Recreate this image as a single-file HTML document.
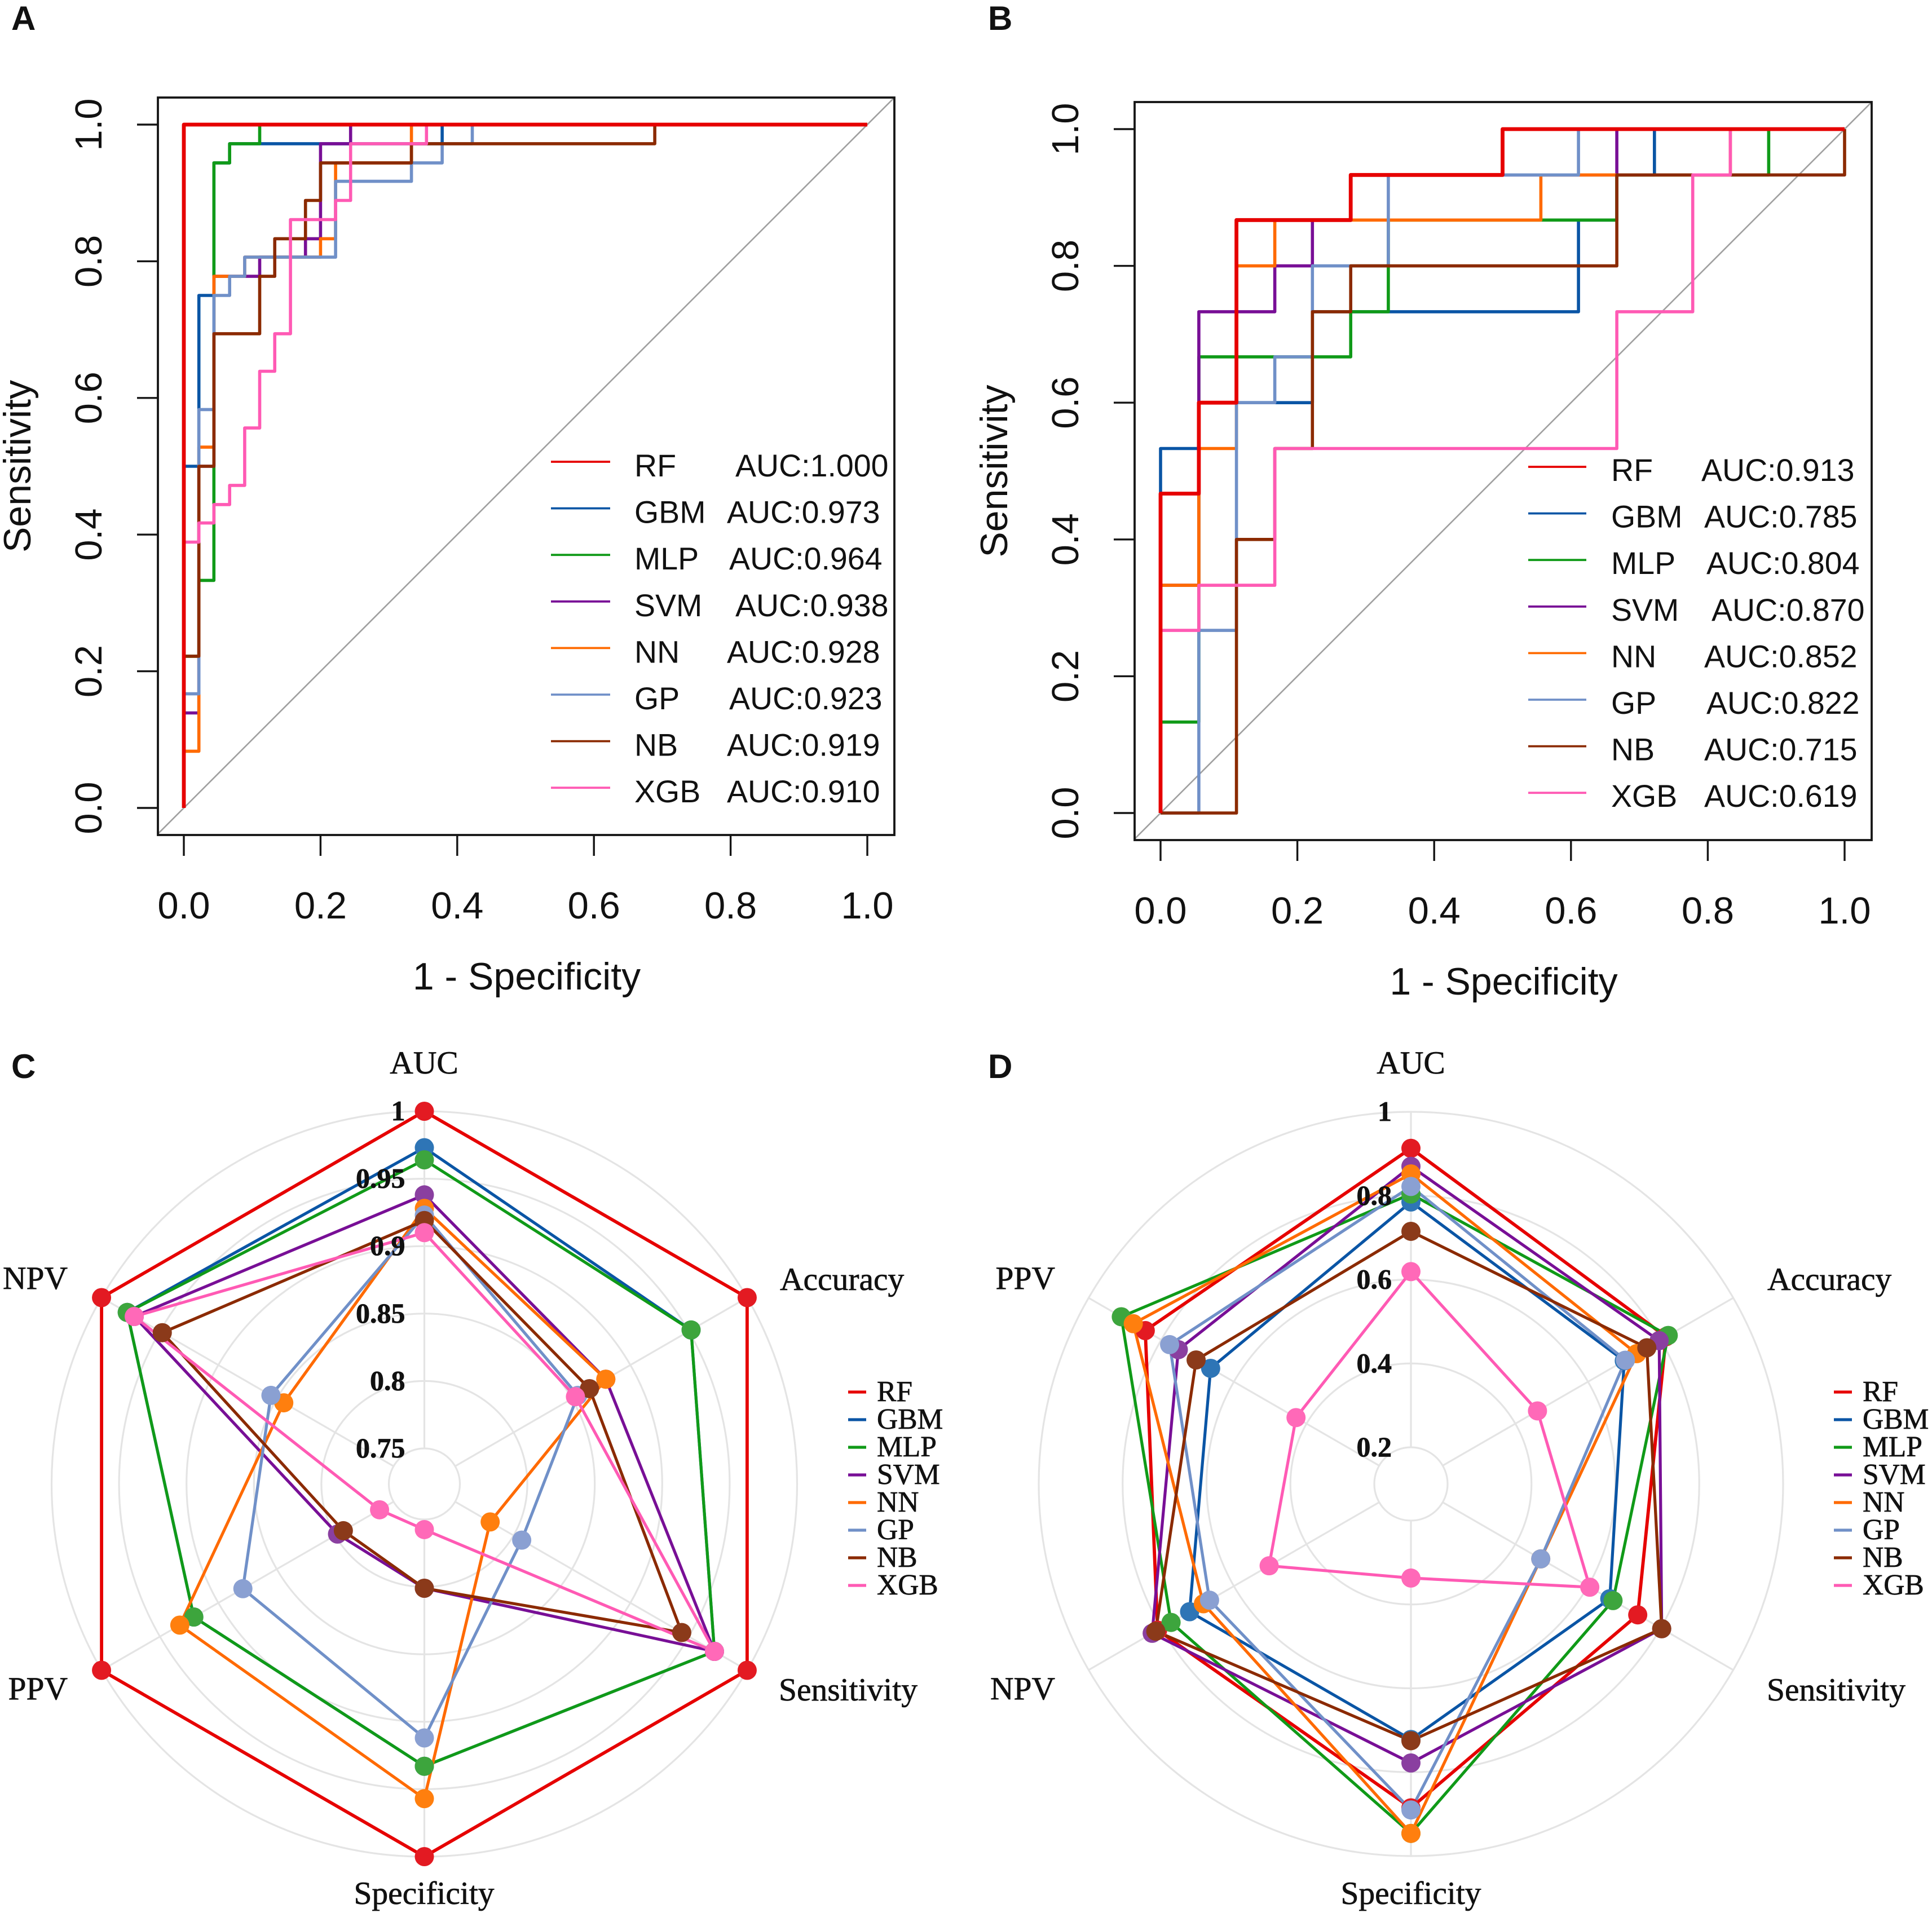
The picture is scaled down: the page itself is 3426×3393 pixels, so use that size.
<!DOCTYPE html>
<html lang="en">
<head>
<meta charset="utf-8">
<title>ROC curves and radar charts of eight models</title>
<style>
html,body{margin:0;padding:0;background:#fff;}
svg{display:block;}
.sans{font-family:"Liberation Sans",sans-serif;fill:#111;}
.serif{font-family:"Liberation Serif",serif;fill:#111;stroke:#111;stroke-width:.7px;}
</style>
</head>
<body>
<svg id="figure" width="3426" height="3393" viewBox="0 0 3426 3393" xmlns="http://www.w3.org/2000/svg">
<rect x="0" y="0" width="3426" height="3393" fill="#fff"/>
<text class="sans" x="20" y="53" font-size="60" font-weight="bold">A</text>
<text class="sans" x="1752" y="53" font-size="60" font-weight="bold">B</text>
<text class="sans" x="20" y="1912" font-size="60" font-weight="bold">C</text>
<text class="sans" x="1752" y="1912" font-size="60" font-weight="bold">D</text>
</svg>
<script>
// ---------- shared series ----------
const models = ["RF","GBM","MLP","SVM","NN","GP","NB","XGB"];
const lineColors = {RF:"#e60000",GBM:"#0a55a5",MLP:"#109a18",SVM:"#780f96",NN:"#ff6a00",GP:"#7090c8",NB:"#8b2a00",XGB:"#ff5ab4"};
const markerColors = {RF:"#e31a22",GBM:"#2e75b6",MLP:"#3da53d",SVM:"#8a3fa0",NN:"#ff7f0e",GP:"#8aa0d2",NB:"#8b3a1a",XGB:"#ff69b8"};
const rocTicks = [0,0.2,0.4,0.6,0.8,1];
const rocTickLabels = ["0.0","0.2","0.4","0.6","0.8","1.0"];

// ---------- panel A ROC ----------
const aucA = ["1.000","0.973","0.964","0.938","0.928","0.923","0.919","0.910"];
const rfAx = [0,0,1];
const rfAy = [0,1,1];
const gbmAx = [0,0,.022,.022,.044,.044,.067,.067,.378,.378,1];
const gbmAy = [0,.5,.5,.75,.75,.944,.944,.972,.972,1,1];
const mlpAx = [0,0,.022,.022,.044,.044,.067,.067,.111,.111,1];
const mlpAy = [0,.222,.222,.333,.333,.944,.944,.972,.972,1,1];
const svmAx = [0,0,.022,.022,.044,.044,.111,.111,.178,.178,.2,.2,.244,.244,1];
const svmAy = [0,.139,.139,.5,.5,.778,.778,.806,.806,.833,.833,.972,.972,1,1];
const nnAx = [0,0,.022,.022,.044,.044,.089,.089,.2,.2,.222,.222,.333,.333,1];
const nnAy = [0,.083,.083,.528,.528,.778,.778,.806,.806,.833,.833,.944,.944,1,1];
const gpAx = [0,0,.022,.022,.044,.044,.067,.067,.089,.089,.222,.222,.333,.333,.378,.378,.422,.422,1];
const gpAy = [0,.167,.167,.583,.583,.75,.75,.778,.778,.806,.806,.917,.917,.944,.944,.972,.972,1,1];
const nbAx = [0,0,.022,.022,.044,.044,.111,.111,.133,.133,.178,.178,.2,.2,.333,.333,.689,.689,1];
const nbAy = [0,.222,.222,.5,.5,.694,.694,.778,.778,.833,.833,.889,.889,.944,.944,.972,.972,1,1];
const xgbAx = [0,0,.022,.022,.044,.044,.067,.067,.089,.089,.111,.111,.133,.133,.156,.156,.222,.222,.244,.244,.355,.355,1];
const xgbAy = [0,.389,.389,.417,.417,.444,.444,.472,.472,.556,.556,.639,.639,.694,.694,.861,.861,.889,.889,.972,.972,1,1];

// ---------- panel B ROC ----------
const aucB = ["0.913","0.785","0.804","0.870","0.852","0.822","0.715","0.619"];
const rfBx = [0,0,.056,.056,.111,.111,.278,.278,.5,.5,1];
const rfBy = [0,.467,.467,.6,.6,.867,.867,.933,.933,1,1];
const gbmBx = [0,0,.056,.056,.222,.222,.611,.611,.667,.667,.722,.722,1];
const gbmBy = [0,.533,.533,.6,.6,.733,.733,.867,.867,.933,.933,1,1];
const mlpBx = [0,0,.056,.056,.278,.278,.333,.333,.667,.667,.889,.889,1];
const mlpBy = [0,.133,.133,.667,.667,.733,.733,.867,.867,.933,.933,1,1];
const svmBx = [0,0,.056,.056,.167,.167,.222,.222,.278,.278,.667,.667,1];
const svmBy = [0,.333,.333,.733,.733,.8,.8,.867,.867,.933,.933,1,1];
const nnBx = [0,0,.056,.056,.111,.111,.167,.167,.556,.556,.833,.833,1];
const nnBy = [0,.333,.333,.533,.533,.8,.8,.867,.867,.933,.933,1,1];
const gpBx = [0,.056,.056,.111,.111,.167,.167,.222,.222,.333,.333,.611,.611,1];
const gpBy = [0,0,.267,.267,.6,.6,.667,.667,.8,.8,.933,.933,1,1];
const nbBx = [0,.111,.111,.167,.167,.222,.222,.278,.278,.667,.667,1,1];
const nbBy = [0,0,.4,.4,.533,.533,.733,.733,.8,.8,.933,.933,1];
const xgbBx = [0,0,.056,.056,.167,.167,.667,.667,.778,.778,.833,.833,1];
const xgbBy = [0,.267,.267,.333,.333,.533,.533,.733,.733,.933,.933,1,1];

// ---------- panel C radar ----------
const axesC = ["AUC","Accuracy","Sensitivity","Specificity","PPV","NPV"];
const ticksC = [0.75,0.8,0.85,0.9,0.95,1];
const tickLabelsC = ["0.75","0.8","0.85","0.9","0.95","1"];
const rfC = [1,1,1,1,1,1];
const gbmC = [.973,.952,.972,.933,.921,.978];
const mlpC = [.964,.952,.972,.933,.921,.978];
const svmC = [.938,.879,.972,.801,.798,.972];
const nnC = [.928,.879,.78,.957,.933,.844];
const gpC = [.923,.855,.807,.912,.879,.855];
const nbC = [.919,.865,.944,.801,.793,.948];
const xgbC = [.91,.853,.972,.7575,.762,.972];

// ---------- panel D radar ----------
const axesD = ["AUC","Accuracy","Sensitivity","Specificity","NPV","PPV"];
const ticksD = [0.2,0.4,0.6,0.8,1];
const tickLabelsD = ["0.2","0.4","0.6","0.8","1"];
const rfD = [.913,.815,.737,.885,.81,.844];
const gbmD = [.785,.70,.66,.722,.722,.664];
const mlpD = [.804,.821,.669,.946,.773,.91];
const svmD = [.87,.796,.803,.778,.825,.753];
const nnD = [.852,.734,.47,.946,.684,.877];
const gpD = [.822,.703,.47,.89,.667,.777];
const nbD = [.715,.762,.803,.725,.815,.704];
const xgbD = [.619,.461,.605,.337,.503,.429];

// ---------- helpers ----------
const SVGNS = "http://www.w3.org/2000/svg";
const figure = document.getElementById("figure");
function make(tag, parent, props, txt) {
  const node = document.createElementNS(SVGNS, tag);
  for (const k in props) node.setAttribute(k, props[k]);
  if (txt !== undefined) node.textContent = txt;
  parent.appendChild(node);
  return node;
}
function slug(s) { return s.toLowerCase().replace(/[^a-z0-9]+/g, "-"); }

// ---------- ROC panel ----------
function drawRoc(cfg) {
  const g = make("g", figure, {});
  
  
  const sx = v => cfg.x0 + v * (cfg.x1 - cfg.x0);
  const sy = v => cfg.y0 + v * (cfg.y1 - cfg.y0);
  const clipId = "clip-" + cfg.id;
  const defs = make("defs", g, {});
  const cp = make("clipPath", defs, {id: clipId});
  make("rect", cp, {x: cfg.left, y: cfg.top, width: cfg.right - cfg.left, height: cfg.bottom - cfg.top});

  const diag = make("line", g, {x1: sx(-0.05), y1: sy(-0.05), x2: sx(1.05), y2: sy(1.05), stroke: "#a0a0a0", "stroke-width": 2.6, "clip-path": "url(#" + clipId + ")"});
  
  

  cfg.order.forEach(m => {
    const s = cfg.series[m];
    const pts = s.x.map((v, i) => sx(v).toFixed(1) + "," + sy(s.y[i]).toFixed(1)).join(" ");
    const pl = make("polyline", g, {points: pts, fill: "none", stroke: lineColors[m], "stroke-width": m === "RF" ? 6.8 : 5.6, "stroke-linejoin": "round"});
    
    
  });

  const box = make("rect", g, {x: cfg.left, y: cfg.top, width: cfg.right - cfg.left, height: cfg.bottom - cfg.top, fill: "none", stroke: "#151515", "stroke-width": 3.8});
  
  

  rocTicks.forEach((t, i) => {
    const tx = make("line", g, {x1: sx(t), x2: sx(t), y1: cfg.bottom, y2: cfg.bottom + 37, stroke: "#151515", "stroke-width": 3.4});
    
    
    const lx = make("text", g, {class: "sans", x: sx(t), y: cfg.bottom + 148, "font-size": 67, "text-anchor": "middle"}, rocTickLabels[i]);
    
    
    const ty = make("line", g, {y1: sy(t), y2: sy(t), x1: cfg.left, x2: cfg.left - 37, stroke: "#151515", "stroke-width": 3.4});
    
    
    const bx = cfg.left - 100, by = sy(t);
    const ly = make("text", g, {class: "sans", x: bx, y: by, "font-size": 67, "text-anchor": "middle", transform: "rotate(-90 " + bx + " " + by + ")"}, rocTickLabels[i]);
    
    
  });

  const xt = make("text", g, {class: "sans", x: (cfg.left + cfg.right) / 2 + 1, y: cfg.bottom + 274, "font-size": 68, "text-anchor": "middle"}, "1 - Specificity");
  
  
  const yx = cfg.left - 226, yy = (cfg.top + cfg.bottom) / 2;
  const yt = make("text", g, {class: "sans", x: yx, y: yy, "font-size": 68, "text-anchor": "middle", transform: "rotate(-90 " + yx + " " + yy + ")"}, "Sensitivity");
  
  

  models.forEach((m, i) => {
    const rowLine = cfg.legendLineY + i * 82.6;
    const rowText = cfg.legendTextY + i * 82.6;
    const key = make("line", g, {x1: cfg.legendLine[0], x2: cfg.legendLine[1], y1: rowLine, y2: rowLine, stroke: lineColors[m], "stroke-width": 3.8});
    
    
    const nm = make("text", g, {class: "sans", x: cfg.legendLabelX, y: rowText, "font-size": 55.5}, m);
    
    
    const au = make("text", g, {class: "sans", x: cfg.legendAucStart[i], y: rowText, "font-size": 55.5}, "AUC:" + cfg.auc[i]);
    
    
  });
}

// ---------- radar panel ----------
function drawRadar(cfg) {
  const g = make("g", figure, {});
  
  
  const lo = cfg.ticks[0], hi = cfg.ticks[cfg.ticks.length - 1];
  const radius = v => cfg.r0 + (v - lo) / (hi - lo) * (cfg.R - cfg.r0);
  const point = (axisIndex, v) => {
    const a = (-90 + 60 * axisIndex) * Math.PI / 180;
    const r = radius(v);
    return [cfg.cx + r * Math.cos(a), cfg.cy + r * Math.sin(a)];
  };
  cfg.ticks.forEach(t => {
    const ring = make("circle", g, {cx: cfg.cx, cy: cfg.cy, r: radius(t), fill: "none", stroke: "#e4e4e4", "stroke-width": 3.2});
    
    
  });
  cfg.axes.forEach((name, i) => {
    const a = point(i, lo), b = point(i, hi);
    const sp = make("line", g, {x1: a[0], y1: a[1], x2: b[0], y2: b[1], stroke: "#e4e4e4", "stroke-width": 3.2});
    
    
  });
  models.forEach(m => {
    const vals = cfg.series[m];
    const pts = vals.map((v, i) => point(i, v).map(n => n.toFixed(1)).join(",")).join(" ");
    const poly = make("polygon", g, {points: pts, fill: "none", stroke: lineColors[m], "stroke-width": m === "RF" ? 5.8 : 5.2, "stroke-linejoin": "round"});
    
    
  });
  models.forEach(m => {
    cfg.series[m].forEach((v, i) => {
      const p = point(i, v);
      const dot = make("circle", g, {cx: p[0], cy: p[1], r: 17, fill: markerColors[m]});
      
      
    });
  });
  cfg.tickLabels.forEach((t, i) => {
    const v = cfg.ticks[i];
    const lb = make("text", g, {class: "serif", x: cfg.cx - cfg.tickGap, y: cfg.cy - radius(v) + 16, "font-size": 50, "text-anchor": "end", "font-weight": "bold"}, t);
    
    
  });
  cfg.axes.forEach((name, i) => {
    const pos = cfg.labelPos[i];
    const lb = make("text", g, {class: "serif", x: pos[0], y: pos[1], "font-size": 57.5, "text-anchor": pos[2]}, name);
    
    
  });
  models.forEach((m, i) => {
    const by = cfg.legendY + i * 49;
    const key = make("line", g, {x1: cfg.legendX, x2: cfg.legendX + 32, y1: by - 16, y2: by - 16, stroke: lineColors[m], "stroke-width": 5.2});
    
    
    const nm = make("text", g, {class: "serif", x: cfg.legendX + 51, y: by, "font-size": 51.5}, m);
    
    
  });
}

const rocOrder = ["GBM","MLP","SVM","NN","GP","NB","XGB","RF"];

drawRoc({
  id: "a", left: 280, top: 173, right: 1586, bottom: 1481,
  x0: 326, x1: 1538, y0: 1433, y1: 221,
  order: rocOrder,
  series: {
    RF:{x:rfAx,y:rfAy}, GBM:{x:gbmAx,y:gbmAy}, MLP:{x:mlpAx,y:mlpAy}, SVM:{x:svmAx,y:svmAy},
    NN:{x:nnAx,y:nnAy}, GP:{x:gpAx,y:gpAy}, NB:{x:nbAx,y:nbAy}, XGB:{x:xgbAx,y:xgbAy}
  },
  auc: aucA,
  legendLine: [977, 1082], legendLineY: 819, legendTextY: 845, legendLabelX: 1125,
  legendAucStart: [1304,1289,1293,1304,1289,1293,1289,1289]
});

drawRoc({
  id: "b", left: 2012, top: 181, right: 3319, bottom: 1490,
  x0: 2058, x1: 3271, y0: 1442, y1: 229,
  order: rocOrder,
  series: {
    RF:{x:rfBx,y:rfBy}, GBM:{x:gbmBx,y:gbmBy}, MLP:{x:mlpBx,y:mlpBy}, SVM:{x:svmBx,y:svmBy},
    NN:{x:nnBx,y:nnBy}, GP:{x:gpBx,y:gpBy}, NB:{x:nbBx,y:nbBy}, XGB:{x:xgbBx,y:xgbBy}
  },
  auc: aucB,
  legendLine: [2710, 2813], legendLineY: 828, legendTextY: 853, legendLabelX: 2857,
  legendAucStart: [3017,3022,3026,3035,3022,3026,3022,3022]
});

drawRadar({
  id: "c", cx: 752.5, cy: 2632, r0: 63, R: 661, tickGap: 34,
  axes: axesC, ticks: ticksC, tickLabels: tickLabelsC,
  series: {RF:rfC, GBM:gbmC, MLP:mlpC, SVM:svmC, NN:nnC, GP:gpC, NB:nbC, XGB:xgbC},
  labelPos: [[752,1904,"middle"],[1383,2288,"start"],[1381,3016,"start"],[752,3377,"middle"],[120,3014,"end"],[120,2286,"end"]],
  legendX: 1504, legendY: 2485
});

drawRadar({
  id: "d", cx: 2502, cy: 2632, r0: 65, R: 660, tickGap: 34,
  axes: axesD, ticks: ticksD, tickLabels: tickLabelsD,
  series: {RF:rfD, GBM:gbmD, MLP:mlpD, SVM:svmD, NN:nnD, GP:gpD, NB:nbD, XGB:xgbD},
  labelPos: [[2502,1904,"middle"],[3134,2288,"start"],[3133,3016,"start"],[2502,3377,"middle"],[1871,3014,"end"],[1871,2286,"end"]],
  legendX: 3252, legendY: 2485
});
</script>
</body>
</html>
